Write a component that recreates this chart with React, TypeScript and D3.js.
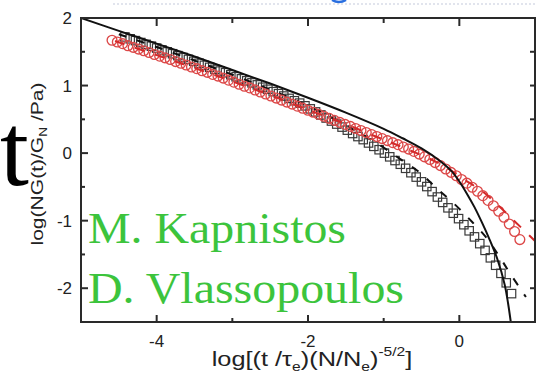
import React from "react";
import * as d3 from "d3";

// ---- data ----
const xTicksMajor = [-4, -2, 0];
const xTicksMinor = [-3, -1];
const yTicksMajor = [-2, -1, 0, 1, 2];
const yTicksMinor = [-1.5, -0.5, 0.5, 1.5];
const rightTicks = [-2, -1.5, -1, -0.5, 0, 0.5, 1, 1.5];
const topTicksMajor = [-4, -2, 0];
const topTicksMinor = [-3, -1];

// red circles
const circX = [-4.59, -4.52, -4.45, -4.38, -4.31, -4.24, -4.17, -4.1, -4.03, -3.96, -3.89, -3.82, -3.75, -3.68, -3.61, -3.54, -3.47, -3.4, -3.33, -3.26, -3.19, -3.12, -3.05, -2.98, -2.91, -2.84, -2.77, -2.7, -2.63, -2.56, -2.49, -2.42, -2.35, -2.28, -2.21, -2.14, -2.07, -2.0, -1.93, -1.86, -1.79, -1.72, -1.65, -1.58, -1.51, -1.44, -1.37, -1.3, -1.23, -1.16, -1.09, -1.02, -0.95, -0.88, -0.81, -0.74, -0.67, -0.6, -0.53, -0.46, -0.39, -0.32, -0.25, -0.18, -0.11, -0.04, 0.03, 0.1, 0.17, 0.24, 0.31, 0.38, 0.45, 0.52, 0.59, 0.66, 0.73, 0.8];
const circY = [1.67, 1.645, 1.62, 1.59, 1.565, 1.54, 1.515, 1.49, 1.46, 1.435, 1.41, 1.385, 1.355, 1.33, 1.305, 1.275, 1.25, 1.22, 1.195, 1.165, 1.14, 1.11, 1.08, 1.05, 1.02, 0.99, 0.965, 0.935, 0.905, 0.875, 0.845, 0.815, 0.785, 0.755, 0.725, 0.695, 0.665, 0.635, 0.605, 0.575, 0.545, 0.515, 0.485, 0.455, 0.425, 0.395, 0.365, 0.335, 0.305, 0.275, 0.245, 0.215, 0.185, 0.155, 0.125, 0.09, 0.06, 0.025, -0.015, -0.055, -0.095, -0.14, -0.185, -0.235, -0.285, -0.335, -0.39, -0.445, -0.505, -0.565, -0.63, -0.7, -0.78, -0.86, -0.95, -1.05, -1.16, -1.28];

// black squares
const sqX = [-4.42, -4.35, -4.28, -4.21, -4.14, -4.07, -4.0, -3.93, -3.86, -3.79, -3.72, -3.65, -3.58, -3.51, -3.44, -3.37, -3.3, -3.23, -3.16, -3.09, -3.02, -2.95, -2.88, -2.81, -2.74, -2.67, -2.6, -2.53, -2.46, -2.39, -2.32, -2.25, -2.18, -2.11, -2.04, -1.97, -1.9, -1.83, -1.76, -1.69, -1.62, -1.55, -1.48, -1.41, -1.34, -1.27, -1.2, -1.13, -1.06, -0.99, -0.92, -0.85, -0.78, -0.71, -0.64, -0.57, -0.5, -0.43, -0.36, -0.29, -0.22, -0.15, -0.08, -0.01, 0.06, 0.13, 0.2, 0.27, 0.34, 0.41, 0.48, 0.55, 0.62, 0.69];
const sqY = [1.72, 1.692, 1.665, 1.637, 1.61, 1.583, 1.555, 1.527, 1.499, 1.471, 1.443, 1.415, 1.387, 1.359, 1.33, 1.3, 1.27, 1.24, 1.215, 1.19, 1.16, 1.13, 1.1, 1.07, 1.04, 1.01, 0.975, 0.945, 0.91, 0.88, 0.845, 0.81, 0.775, 0.74, 0.7, 0.655, 0.61, 0.565, 0.52, 0.475, 0.43, 0.385, 0.34, 0.29, 0.245, 0.2, 0.15, 0.1, 0.05, 0.0, -0.055, -0.11, -0.165, -0.225, -0.29, -0.355, -0.425, -0.495, -0.57, -0.65, -0.73, -0.81, -0.89, -0.97, -1.06, -1.15, -1.24, -1.34, -1.44, -1.55, -1.66, -1.78, -1.92, -2.08];

// solid black line
const solidX = [-5, -4.5, -4, -3.5, -3, -2.5, -2, -1.5, -1, -0.75, -0.5, -0.25, -0.1, 0, 0.1, 0.2, 0.3, 0.4, 0.5, 0.6, 0.68];
const solidY = [2.0, 1.81, 1.62, 1.43, 1.23, 1.03, 0.82, 0.6, 0.36, 0.22, 0.07, -0.12, -0.27, -0.42, -0.6, -0.8, -1.03, -1.28, -1.56, -1.95, -2.5];

// black dashed line
const bdashX = [-4.5, -4, -3.5, -3, -2.5, -2, -1.5, -1.04, -0.78, -0.52, -0.29, -0.05, 0.17, 0.37, 0.54, 0.67, 0.88];
const bdashY = [1.76, 1.57, 1.37, 1.16, 0.94, 0.7, 0.41, 0.11, -0.09, -0.29, -0.53, -0.77, -1.02, -1.27, -1.55, -1.78, -2.13];

// red dashed line
const rdashX = [-4.55, -4, -3.5, -3, -2.5, -2, -1.5, -1.18, -0.91, -0.65, -0.4, -0.16, 0.05, 0.32, 0.54, 0.75, 1.0];
const rdashY = [1.66, 1.45, 1.26, 1.06, 0.86, 0.64, 0.43, 0.28, 0.16, 0.04, -0.08, -0.22, -0.38, -0.58, -0.8, -1.03, -1.3];

const yLabels = ["-2", "-1", "0", "1", "2"];
const xLabels = ["-4", "-2", "0"];
const authors = ["M. Kapnistos", "D. Vlassopoulos"];

const W = 536;
const H = 376;
const L = 81, R = 535, T = 18, B = 322;

export default function App() {
  const x = d3.scaleLinear().domain([-5, 1]).range([L, R]);
  const y = d3.scaleLinear().domain([-2.5, 2]).range([B, T]);

  const line = d3
    .line<[number, number]>()
    .x((d) => x(d[0]))
    .y((d) => y(d[1]))
    .curve(d3.curveCatmullRom.alpha(0.5));

  const zip = (a: number[], b: number[]) => a.map((v, i) => [v, b[i]] as [number, number]);
  const solid = zip(solidX, solidY);
  const bdash = zip(bdashX, bdashY);
  const rdash = zip(rdashX, rdashY);
  const circles = zip(circX, circY);
  const squares = zip(sqX, sqY);

  const axisColor = "#2a2a2a";
  const textColor = "#222";
  const sans = "'Liberation Sans', Arial, Helvetica, sans-serif";
  const serif = "'Liberation Serif', 'Times New Roman', serif";

  return (
    <svg
      width={W}
      height={H}
      viewBox={`0 0 ${W} ${H}`}
      style={{ position: "absolute", left: 0, top: 0, background: "#fff" }}
    >
      <rect x={0} y={0} width={W} height={H} fill="#fff" />
      {/* faint dotted line at top */}
      <line x1={113} x2={536} y1={4} y2={4} stroke="#d8dce8" strokeWidth={1.5} strokeDasharray="2,2" />
      <path d="M332,0 Q339,4 346,0" fill="none" stroke="#2a6fe0" strokeWidth={2.5} />

      {/* big serif t */}
      <text x={0} y={185} fontFamily={serif} fontSize={104} fill="#000">
        t
      </text>

      <defs>
        <clipPath id="plotClip">
          <rect x={L} y={T} width={R - L} height={B - T} />
        </clipPath>
      </defs>

      <g clipPath="url(#plotClip)">
        {squares.map((d, i) => (
          <rect
            key={"s" + i}
            x={x(d[0]) - 4.2}
            y={y(d[1]) - 4.2}
            width={8.4}
            height={8.4}
            fill="none"
            stroke="#3a3a3a"
            strokeWidth={1.2}
          />
        ))}
        <path d={line(bdash) || ""} fill="none" stroke="#111" strokeWidth={2} strokeDasharray="8,11" />
        {circles.map((d, i) => (
          <circle
            key={"c" + i}
            cx={x(d[0])}
            cy={y(d[1])}
            r={4.9}
            fill="none"
            stroke="#dc4848"
            strokeWidth={1.35}
          />
        ))}
        <path d={line(rdash) || ""} fill="none" stroke="#d42a2a" strokeWidth={2} strokeDasharray="10,11" />
        <path d={line(solid) || ""} fill="none" stroke="#111" strokeWidth={2} />
      </g>

      {/* frame */}
      <rect x={L} y={T} width={R - L} height={B - T} fill="none" stroke={axisColor} strokeWidth={2} />

      {/* left ticks */}
      {yTicksMajor.map((v) => (
        <line key={"ly" + v} x1={L} x2={L + 7} y1={y(v)} y2={y(v)} stroke={axisColor} strokeWidth={2} />
      ))}
      {yTicksMinor.map((v) => (
        <line key={"lym" + v} x1={L} x2={L + 4} y1={y(v)} y2={y(v)} stroke={axisColor} strokeWidth={2} />
      ))}
      {/* right ticks */}
      {rightTicks.map((v) => (
        <line key={"ry" + v} x1={R - 5} x2={R} y1={y(v)} y2={y(v)} stroke={axisColor} strokeWidth={2} />
      ))}
      {/* bottom ticks */}
      {xTicksMajor.map((v) => (
        <line key={"bx" + v} x1={x(v)} x2={x(v)} y1={B} y2={B - 7} stroke={axisColor} strokeWidth={2} />
      ))}
      {xTicksMinor.map((v) => (
        <line key={"bxm" + v} x1={x(v)} x2={x(v)} y1={B} y2={B - 4} stroke={axisColor} strokeWidth={2} />
      ))}
      {/* top ticks */}
      {topTicksMajor.map((v) => (
        <line key={"tx" + v} x1={x(v)} x2={x(v)} y1={T} y2={T + 8} stroke={axisColor} strokeWidth={2} />
      ))}
      {topTicksMinor.map((v) => (
        <line key={"txm" + v} x1={x(v)} x2={x(v)} y1={T} y2={T + 5} stroke={axisColor} strokeWidth={2} />
      ))}

      {/* tick labels */}
      {yTicksMajor.map((v, i) => (
        <text
          key={"yl" + v}
          x={72}
          y={y(v)}
          dy="0.36em"
          textAnchor="end"
          fontFamily={sans}
          fontSize={17}
          fill={textColor}
        >
          {yLabels[i]}
        </text>
      ))}
      {xTicksMajor.map((v, i) => (
        <text
          key={"xl" + v}
          x={x(v)}
          y={347}
          textAnchor="middle"
          fontFamily={sans}
          fontSize={17}
          fill={textColor}
        >
          {xLabels[i]}
        </text>
      ))}

      {/* axis titles */}
      <g transform="translate(43,164) rotate(-90) scale(1.24,1)">
        <text textAnchor="middle" fontFamily={sans} fontSize={17} fill={textColor}>
          log(NG(t)/G
          <tspan fontSize={11} dy={4}>N</tspan>
          <tspan dy={-4}> /Pa)</tspan>
        </text>
      </g>
      <g transform="translate(312,366) scale(1.3,1)">
        <text textAnchor="middle" fontFamily={sans} fontSize={19.5} fill={textColor}>
          log[(t /τ
          <tspan fontSize={12} dy={5}>e</tspan>
          <tspan dy={-5}>)(N/N</tspan>
          <tspan fontSize={12} dy={5}>e</tspan>
          <tspan dy={-5}>)</tspan>
          <tspan fontSize={12} dy={-10}>-5/2</tspan>
          <tspan dy={10}>]</tspan>
        </text>
      </g>

      {/* green author names */}
      <text x={88} y={243} fontFamily={serif} fontSize={45} fill="#3cc43c" textLength={258} lengthAdjust="spacingAndGlyphs">
        {authors[0]}
      </text>
      <text x={88} y={303} fontFamily={serif} fontSize={45} fill="#3cc43c" textLength={316} lengthAdjust="spacingAndGlyphs">
        {authors[1]}
      </text>
    </svg>
  );
}
